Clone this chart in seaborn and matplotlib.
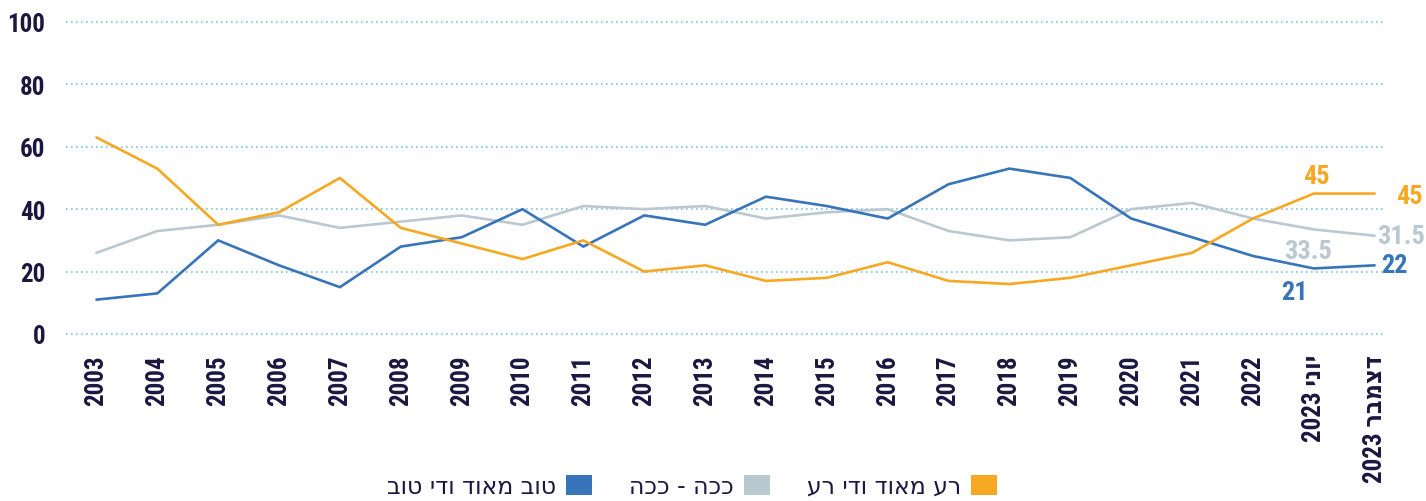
import matplotlib
matplotlib.use("Agg")
import matplotlib.pyplot as plt
from matplotlib.patches import Patch
import seaborn as sns
import pandas as pd

categories = ["2003", "2004", "2005", "2006", "2007", "2008", "2009", "2010", "2011", "2012",
              "2013", "2014", "2015", "2016", "2017", "2018", "2019", "2020", "2021", "2022",
              "יוני 2023", "דצמבר 2023"]
bad = [63, 53, 35, 39, 50, 34, 29, 24, 30, 20, 22, 17, 18, 23, 17, 16, 18, 22, 26, 37, 45, 45]
soso = [26, 33, 35, 38, 34, 36, 38, 35, 41, 40, 41, 37, 39, 40, 33, 30, 31, 40, 42, 37, 33.5, 31.5]
good = [11, 13, 30, 22, 15, 28, 31, 40, 28, 38, 35, 44, 41, 37, 48, 53, 50, 37, 31, 25, 21, 22]
series_names = ["רע מאוד ודי רע", "ככה - ככה", "טוב מאוד ודי טוב"]
yticks = [0, 20, 40, 60, 80, 100]

ORANGE = "#F7A823"
GRAY = "#BAC8D1"
BLUE = "#3874BA"
NAVY = "#1B1740"
GRID = "#7CC6E0"


def visual(s):
    """Convert logical RTL Hebrew text to visual LTR order for matplotlib."""
    words = s.split(" ")[::-1]
    out = []
    for w in words:
        if any("\u0590" <= ch <= "\u05FF" for ch in w):
            out.append(w[::-1])
        else:
            out.append(w)
    return " ".join(out)


sns.set_theme(style="white")
FAM = ["Roboto Condensed", "Liberation Sans Narrow", "DejaVu Sans"]
plt.rcParams["font.family"] = FAM

fig = plt.figure(figsize=(14.26, 5.02), dpi=100)
ax = fig.add_axes([66 / 1426, 0.3203, (1385 - 66) / 1426, 0.6464])

n = len(categories)
idx = list(range(n))
df = pd.DataFrame({
    "x": idx * 3,
    "value": bad + soso + good,
    "series": [series_names[0]] * n + [series_names[1]] * n + [series_names[2]] * n,
})
palette = {series_names[0]: ORANGE, series_names[1]: GRAY, series_names[2]: BLUE}
sns.lineplot(data=df, x="x", y="value", hue="series", palette=palette, linewidth=1.9,
             ax=ax, legend=False, hue_order=[series_names[1], series_names[2], series_names[0]])

ax.set_xlim(-0.5, n - 1 + 0.17)
ax.set_ylim(-2, 102)
ax.set_yticks(yticks)
ax.set_yticklabels([str(t) for t in yticks], fontsize=18, fontweight="bold", color=NAVY,
                   fontstretch="condensed")
ax.set_xticks(idx)
ax.set_xticklabels([visual(c) for c in categories], rotation=90, fontsize=18,
                   fontweight="bold", color=NAVY, fontstretch="condensed")
ax.tick_params(axis="y", length=0, pad=15)
ax.tick_params(axis="x", length=0, pad=10)
for sp in ax.spines.values():
    sp.set_visible(False)
ax.set_xlabel("")
ax.set_ylabel("")
ax.yaxis.grid(True, linestyle=(0, (1, 2)), color=GRID, linewidth=1.2)
ax.xaxis.grid(False)

# end labels
lab_kw = dict(fontsize=19, fontweight="bold", ha="center", va="center", fontstretch="condensed")
ax.annotate(f"{bad[-2]:g}", (n - 2, bad[-2]), xytext=(2, 12.5), textcoords="offset points",
            color=ORANGE, **lab_kw)
ax.annotate(f"{bad[-1]:g}", (n - 1, bad[-1]), xytext=(25, -2), textcoords="offset points",
            color=ORANGE, **lab_kw)
ax.annotate(f"{soso[-2]:g}", (n - 2, soso[-2]), xytext=(-4, -15.5), textcoords="offset points",
            color=GRAY, **lab_kw)
ax.annotate(f"{soso[-1]:g}", (n - 1, soso[-1]), xytext=(19, 0), textcoords="offset points",
            color=GRAY, **lab_kw)
ax.annotate(f"{good[-2]:g}", (n - 2, good[-2]), xytext=(-14, -17), textcoords="offset points",
            color=BLUE, **lab_kw)
ax.annotate(f"{good[-1]:g}", (n - 1, good[-1]), xytext=(14, 0), textcoords="offset points",
            color=BLUE, **lab_kw)

handles = [Patch(facecolor=BLUE, edgecolor="none"),
           Patch(facecolor=GRAY, edgecolor="none"),
           Patch(facecolor=ORANGE, edgecolor="none")]
labels = [visual(series_names[2]), visual(series_names[1]), visual(series_names[0])]
fig.legend(handles, labels, loc="center", bbox_to_anchor=(692 / 1426, 1 - 487 / 502),
           ncol=3, frameon=False, markerfirst=False, handlelength=1.1, handleheight=0.9,
           handletextpad=0.4, columnspacing=1.6,
           prop={"family": ["DejaVu Sans"], "size": 17}, labelcolor=NAVY)

fig.savefig("out.png", dpi=100)
